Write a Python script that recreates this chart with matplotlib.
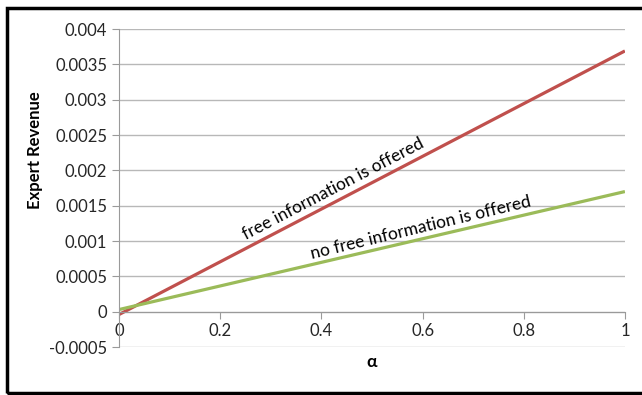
import matplotlib
matplotlib.use('Agg')
import matplotlib.pyplot as plt
from matplotlib.patches import Rectangle

# 두 경우의 전문가 수익 (alpha 양 끝점)
alpha = [0, 1]
rev_free = [-0.00004, 0.00369]
rev_nofree = [0.00003, 0.0017]

xticks = [0, 0.2, 0.4, 0.6, 0.8, 1]
xtick_labels = ['0', '0.2', '0.4', '0.6', '0.8', '1']
yticks = [-0.0005, 0, 0.0005, 0.001, 0.0015, 0.002, 0.0025, 0.003, 0.0035, 0.004]
ytick_labels = ['-0.0005', '0', '0.0005', '0.001', '0.0015', '0.002', '0.0025', '0.003', '0.0035', '0.004']

plt.rcParams['font.family'] = ['Lato', 'DejaVu Sans']

fig = plt.figure(figsize=(6.42, 3.95), dpi=100)
ax = fig.add_axes([0.1854, 0.1215, 0.788, 0.805])

ax.plot(alpha, rev_free, color='#C0504D', linewidth=2.3, solid_capstyle='butt')
ax.plot(alpha, rev_nofree, color='#9BBB59', linewidth=2.3, solid_capstyle='butt')

ax.set_xlim(0, 1)
ax.set_ylim(-0.0005, 0.004)
ax.set_xticks(xticks)
ax.set_xticklabels(xtick_labels)
ax.set_yticks(yticks)
ax.set_yticklabels(ytick_labels)

# 엑셀 스타일 축
for s in ['top', 'right']:
    ax.spines[s].set_visible(False)
ax.spines['bottom'].set_position(('data', 0))
ax.spines['bottom'].set_color('#9a9a9a')
ax.spines['left'].set_color('#9a9a9a')
ax.tick_params(axis='both', direction='out', length=5, color='#9a9a9a',
               labelsize=12, labelcolor='#262626')
ax.yaxis.grid(True, color='#b8b8b8', linewidth=1)
ax.set_axisbelow(True)

ax.text(0.423, 0.00174, 'free information is offered', rotation=27.5,
        rotation_mode='anchor', ha='center', va='center', fontsize=12.5)
ax.text(0.597, 0.00119, 'no free information is offered', rotation=13.5,
        rotation_mode='anchor', ha='center', va='center', fontsize=12.5)

fig.text(35 / 642, 1 - 150 / 395, 'Expert Revenue', rotation=90, ha='center', va='center',
         fontsize=12, fontweight='bold')
fig.text(372 / 642, 1 - 362 / 395, 'α', ha='center', va='center',
         fontsize=12.5, fontweight='bold')

# 바깥 테두리
fig.patches.append(Rectangle((6.5 / 642, 1 - 392.5 / 395), 1.05, (392.5 - 8) / 395,
                             transform=fig.transFigure, fill=False, edgecolor='black',
                             linewidth=2.5, clip_on=False))

plt.savefig('out.png', dpi=100)
